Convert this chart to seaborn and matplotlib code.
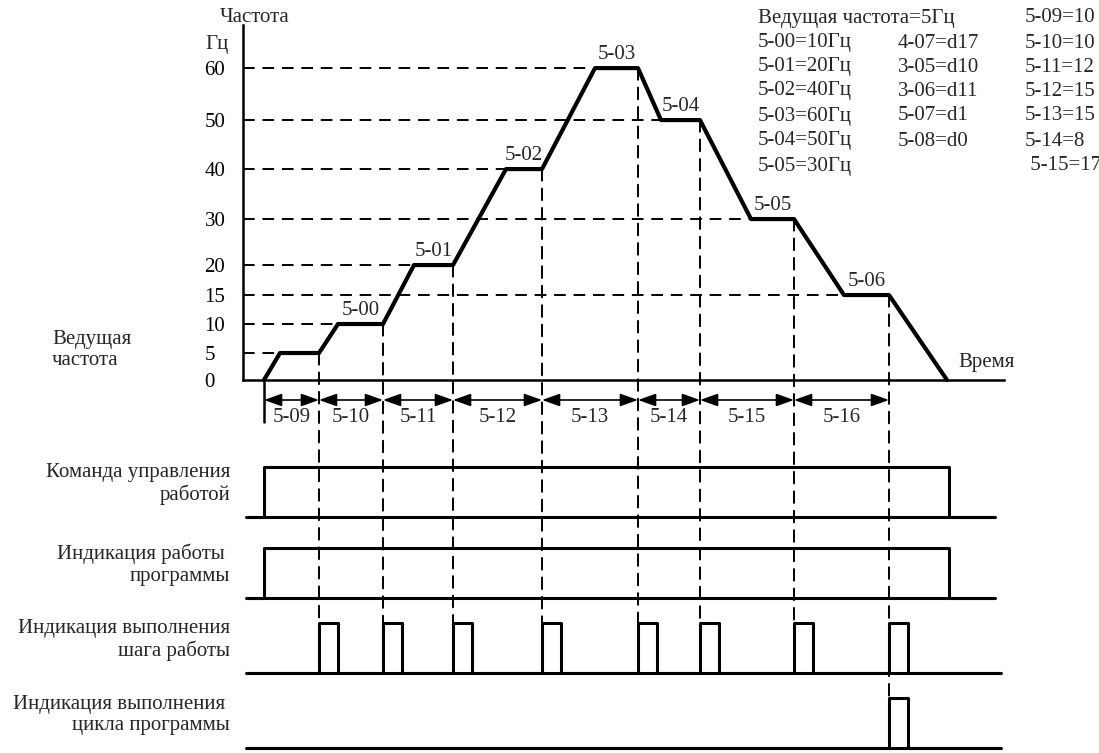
import numpy as np
import matplotlib
matplotlib.use('Agg')
import matplotlib.pyplot as plt
from matplotlib.patches import ConnectionPatch
import seaborn as sns

sns.set_theme(style='white')
plt.rcParams['font.family'] = ['Liberation Serif', 'DejaVu Serif']

# frequency profile (time in arbitrary units, Hz)
t_keys = [0, 1.6, 5.5, 7.4, 11.9, 15.0, 18.9, 24.2, 27.8, 33.1, 37.4, 39.7, 43.6, 48.7, 53.0, 58.0, 62.5, 68.3]
freq = [0, 5, 5, 10, 10, 20, 20, 40, 40, 60, 60, 50, 50, 30, 30, 15, 15, 0]
hz_ticks = [0, 5, 10, 15, 20, 30, 40, 50, 60]
step_ends = [5.5, 11.9, 18.9, 27.8, 37.4, 43.6, 53.0, 62.5]
plateau_labels = ['5-00', '5-01', '5-02', '5-03', '5-04', '5-05', '5-06']
time_labels = ['5-09', '5-10', '5-11', '5-12', '5-13', '5-14', '5-15', '5-16']
run_off = 68.5
pulse_w = 1.9

row_names = ['Команда управления\nработой', 'Индикация работы \nпрограммы',
             'Индикация выполнения\nшага работы', 'Индикация выполнения \nцикла программы']

par_col1 = ['Ведущая частота=5Гц', '5-00=10Гц', '5-01=20Гц', '5-02=40Гц', '5-03=60Гц', '5-04=50Гц', '5-05=30Гц']
par_col2 = ['', '4-07=d17', '3-05=d10', '3-06=d11', '5-07=d1', '5-08=d0', '']
par_col3 = ['5-09=10', '5-10=10', '5-11=12', '5-12=15', '5-13=15', '5-14=8', ' 5-15=17']

# visual (non-linear) placement of the Hz levels, pixels above the zero line
lvl_hz = [0, 5, 10, 15, 20, 30, 40, 50, 60, 80]
lvl_px = [0, 27, 56, 85, 115, 161, 211, 260, 312, 416]

FS = 15
W, H = 1099, 753
fig = plt.figure(figsize=(W / 100, H / 100), dpi=100)
ax_f = fig.add_axes([0, 1 - 380 / H, 1, 380 / H])
ax_s = fig.add_axes([0, 0, 1, 1 - 380 / H], sharex=ax_f)

fwd = lambda v: np.interp(v, lvl_hz, lvl_px)
inv = lambda v: np.interp(v, lvl_px, lvl_hz)
ax_f.set_yscale('function', functions=(fwd, inv))
ax_f.set_ylim(0, 73.1)
ax_f.set_xlim(-26.4, 83.5)
ax_s.set_ylim(0, 7.46)

x_axis = -2.1
sns.lineplot(x=t_keys, y=freq, ax=ax_f, estimator=None, sort=False, color='black', lw=3)

# axes lines
for s in ['top', 'right']:
    ax_f.spines[s].set_visible(False)
ax_f.spines['left'].set_position(('data', x_axis))
ax_f.spines['left'].set_bounds(0, 68.3)
ax_f.spines['bottom'].set_bounds(x_axis, 74.0)
for s in ['left', 'bottom']:
    ax_f.spines[s].set_color('black')
    ax_f.spines[s].set_linewidth(1.8)
ax_f.set_yticks(hz_ticks)
ax_f.set_yticklabels([str(v) for v in hz_ticks])
ax_f.set_xticks([])
ax_f.tick_params(axis='y', length=0, pad=27.7, labelsize=FS, colors='black')
for lab in ax_f.get_yticklabels():
    lab.set_horizontalalignment('left')
ax_f.grid(False)

dash = (0, (6, 4))
# horizontal dashed guides up to where each level is first reached
for lv in hz_ticks[1:]:
    t_reach = t_keys[freq.index(lv)]
    ax_f.plot([x_axis, t_reach], [lv, lv], color='black', lw=1.4, linestyle=dash)

# plateau labels
plats = [(t_keys[i], t_keys[i + 1], freq[i]) for i in range(len(freq) - 1) if freq[i] == freq[i + 1]]
for (a, b, f), lab in zip(plats[1:], plateau_labels):
    ax_f.annotate(lab, xy=((a + b) / 2, f), xytext=(0, 10), textcoords='offset points',
                  ha='center', va='center', fontsize=FS)

# timing rows
bases = [4.72, 3.1, 1.6, 0.1]
amp = 1.0


def wave(starts, width, x0, x1):
    xs, ys = [x0], [0]
    for s in starts:
        xs += [s, s, s + width, s + width]
        ys += [0, 1, 1, 0]
    xs.append(x1)
    ys.append(0)
    return np.array(xs), np.array(ys, dtype=float)


waves = [wave([0], run_off, -1.8, 73.1),
         wave([0], run_off, -1.8, 73.1),
         wave(step_ends, pulse_w, -1.8, 73.7),
         wave(step_ends[-1:], pulse_w, -1.8, 73.7)]
for (xs, ys), b in zip(waves, bases):
    sns.lineplot(x=xs, y=ys * amp + b, ax=ax_s, estimator=None, sort=False, color='black', lw=2.2)
    # continuous base line under the pulses
    ax_s.plot([xs[0], xs[-1]], [b, b], color='black', lw=2.2, solid_capstyle='butt')

for name, b in zip(row_names, bases):
    ax_s.text(-3.4, b + 0.66, name, ha='right', va='center', fontsize=FS, multialignment='right',
              linespacing=1.2)

ax_s.axis('off')

# dimension arrows
y_arr = 7.06
bounds = [0] + step_ends
ax_s.plot([0, 0], [7.46, 6.62], color='black', lw=1.8, clip_on=False)
for a, b, lab in zip(bounds[:-1], bounds[1:], time_labels):
    ax_s.annotate('', xy=(b, y_arr), xytext=(a, y_arr),
                  arrowprops=dict(arrowstyle='<|-|>,head_length=0.9,head_width=0.32',
                                  color='black', lw=1.2, shrinkA=0, shrinkB=0))
    ax_s.text((a + b) / 2, 6.7, lab, ha='center', va='center', fontsize=FS)

# vertical dashed guides from plateau ends down to pulses
for i, t in enumerate(step_ends):
    f = freq[t_keys.index(t)]
    end_y = bases[2] + amp if i < len(step_ends) - 1 else bases[3] + amp
    con = ConnectionPatch(xyA=(t, f), coordsA=ax_f.transData, xyB=(t, end_y), coordsB=ax_s.transData,
                          color='black', lw=1.4, linestyle=dash)
    fig.add_artist(con)

for ax in (ax_f, ax_s):
    for l in ax.lines:
        l.set_clip_on(False)


def ftext(x, y, s, **kw):
    fig.text(x / W, 1 - y / H, s, fontsize=FS, va='center', **kw)


ftext(220, 18, 'Частота')
ftext(205, 45, 'Гц')
ftext(52, 350, 'Ведущая\nчастота', linespacing=1.2)
ftext(958, 362, 'Время')
row_y = [18, 43, 67, 91, 116, 141, 166]
for y, c1, c2, c3 in zip(row_y, par_col1, par_col2, par_col3):
    ftext(758, y, c1)
    ftext(898, y, c2)
    ftext(1025, y, c3)

fig.savefig('out.png', dpi=100)
